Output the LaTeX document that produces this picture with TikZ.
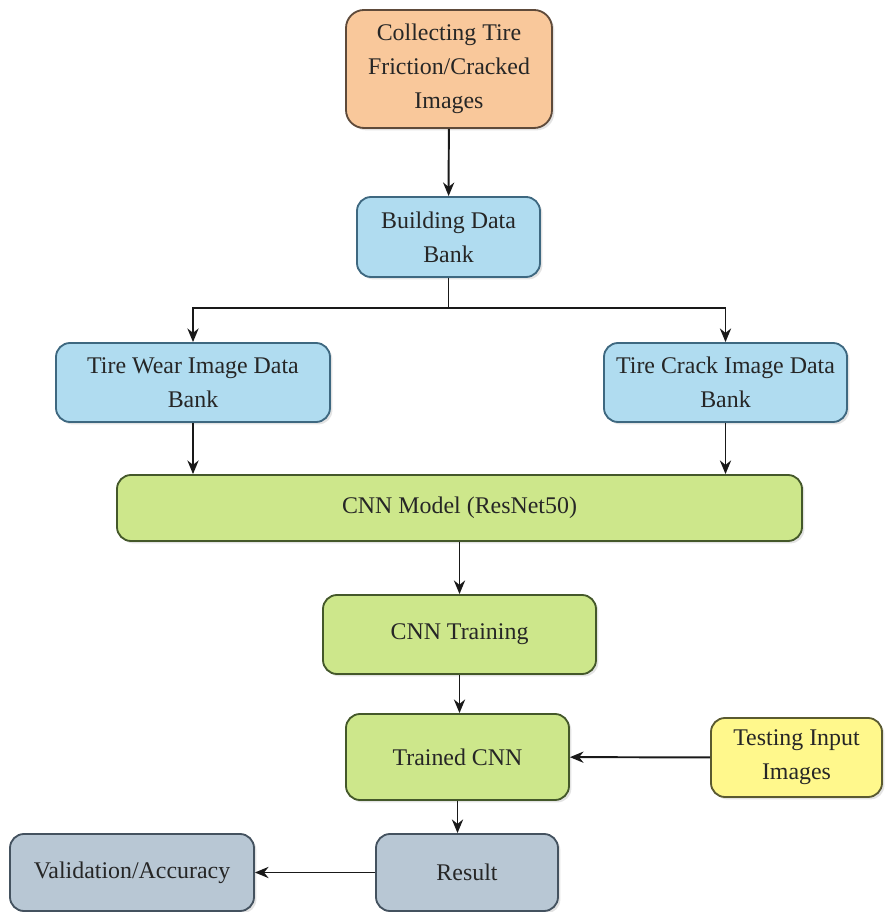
\documentclass[tikz,border=0pt]{standalone}
\usepackage{fontspec}
\setmainfont{LiberationSerif}[Extension=.ttf,UprightFont=*-Regular,BoldFont=*-Bold]
\usetikzlibrary{arrows.meta,shadows}
\definecolor{peach}{HTML}{F9C89B}
\definecolor{peachline}{HTML}{5E4A3A}
\definecolor{skyfill}{HTML}{B0DCF0}
\definecolor{skyline}{HTML}{3E6880}
\definecolor{limefill}{HTML}{CDE78B}
\definecolor{limeline}{HTML}{44582A}
\definecolor{lemonfill}{HTML}{FFF88C}
\definecolor{lemonline}{HTML}{5A5A30}
\definecolor{slatefill}{HTML}{B8C7D4}
\definecolor{slateline}{HTML}{44525F}
\begin{document}
\begin{tikzpicture}[x=1cm,y=1cm,
	box/.style={draw,line width=1.3pt,rounded corners=0.35cm,align=center,inner sep=0pt,
		font=\fontsize{17}{24}\selectfont,text=black!85,
		drop shadow={opacity=0.22,shadow xshift=0.06cm,shadow yshift=-0.06cm}},
	skybox/.style={box,fill=skyfill,draw=skyline},
	limebox/.style={box,fill=limefill,draw=limeline},
	slatebox/.style={box,fill=slatefill,draw=slateline},
	link/.style={-{Stealth[length=0.34cm,width=0.28cm]},line width=1.4pt,black!90}]
	\useasboundingbox (0,0) rectangle (22.1,22.8);
	\node[box,fill=peach,draw=peachline,rounded corners=0.45cm,minimum width=5.15cm,minimum height=2.95cm] (collect) at (11.225,21.075) {Collecting Tire\\Friction/Cracked\\Images};
	\node[skybox,minimum width=4.575cm,minimum height=2cm] (build) at (11.2125,16.875) {Building Data\\Bank};
	\node[skybox,minimum width=6.85cm,minimum height=1.975cm] (wear) at (4.825,13.2375) {Tire Wear Image Data\\Bank};
	\node[skybox,minimum width=6.075cm,minimum height=1.975cm] (crack) at (18.1375,13.2375) {Tire Crack Image Data\\Bank};
	\node[limebox,minimum width=17.125cm,minimum height=1.65cm] (cnn) at (11.4875,10.1) {CNN Model (ResNet50)};
	\node[limebox,minimum width=6.825cm,minimum height=1.975cm] (train) at (11.4875,6.9375) {CNN Training};
	\node[limebox,minimum width=5.575cm,minimum height=2.15cm] (trained) at (11.4375,3.875) {Trained CNN};
	\node[box,fill=lemonfill,draw=lemonline,minimum width=4.275cm,minimum height=1.975cm] (test) at (19.9125,3.8625) {Testing Input\\Images};
	\node[slatebox,minimum width=4.55cm,minimum height=1.925cm] (result) at (11.675,0.9875) {Result};
	\node[slatebox,minimum width=6.1cm,minimum height=1.925cm] (valid) at (3.3,0.9875) {Validation/Accuracy};
	\coordinate (split) at (11.2125,15.1);
	\draw[link] (collect) -- (build);
	\draw[line width=1.4pt,black!90] (build) -- (split);
	\draw[link] (split) -| (wear);
	\draw[link] (split) -| (crack);
	\draw[link] (wear) -- (wear |- cnn.north);
	\draw[link] (crack) -- (crack |- cnn.north);
	\draw[link] (cnn) -- (train);
	\draw[link] (train.south) -- (train.south |- trained.north);
	\draw[link] (test) -- (trained);
	\draw[link] (trained.south) -- (trained.south |- result.north);
	\draw[link] (result) -- (valid);
\end{tikzpicture}
\end{document}
